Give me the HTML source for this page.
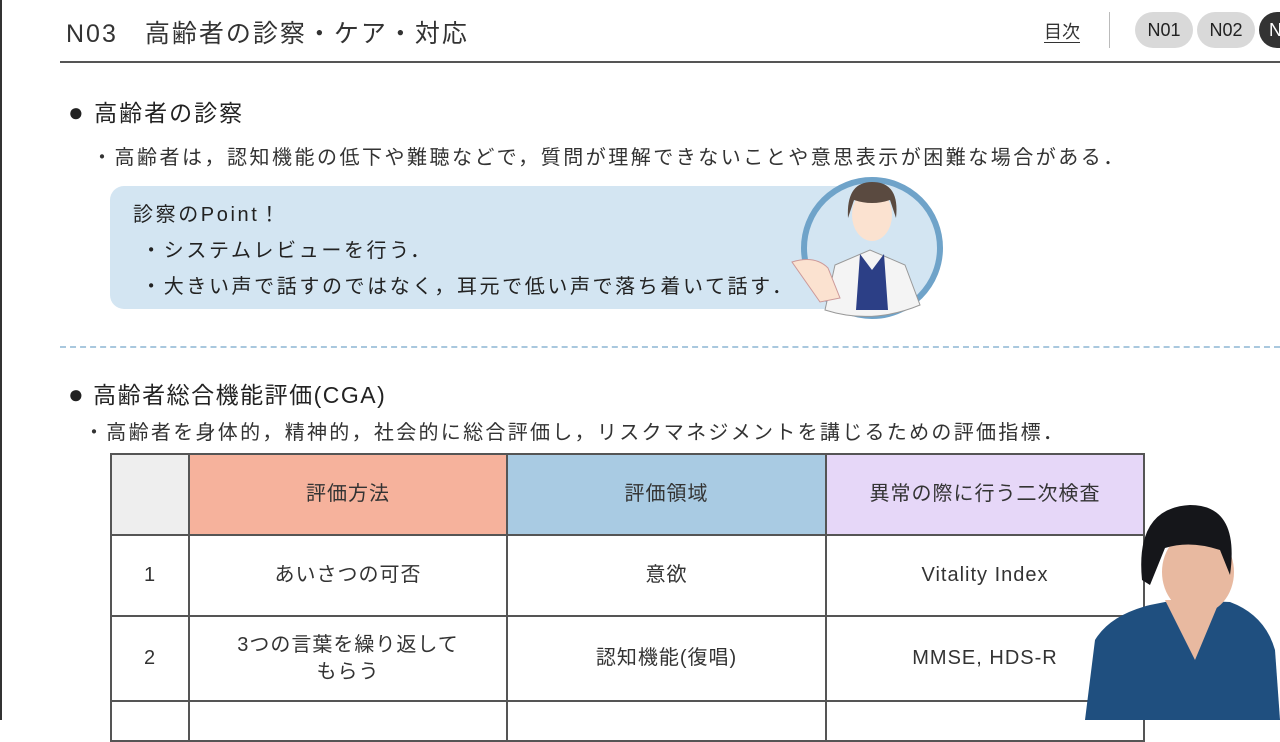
<!DOCTYPE html>
<html><head><meta charset="utf-8"><style>
body{margin:0;width:1280px;height:720px;overflow:hidden;background:#fff;position:relative;font-family:"Liberation Sans","Noto Sans CJK JP",sans-serif;color:#222}
.a{position:absolute;white-space:nowrap}
table{position:absolute;left:110px;top:453px;border-collapse:collapse;font-size:20px;color:#333;letter-spacing:1px}
td{border:2px solid #555;text-align:center;vertical-align:middle;line-height:27px}
</style></head><body>
<div class="a" style="left:0;top:0;width:2px;height:720px;background:#333"></div>
<div class="a" style="left:66px;top:14px;font-size:25px;color:#333;letter-spacing:2px">N03　高齢者の診察・ケア・対応</div>
<div class="a" style="left:1044px;top:18px;font-size:18px;color:#333;text-decoration:underline;text-underline-offset:4px">目次</div>
<div class="a" style="left:1109px;top:12px;width:1px;height:36px;background:#bbb"></div>
<div class="a" style="left:1135px;top:12px;width:58px;height:36px;border-radius:18px;background:#d9d9d9;font-size:18px;line-height:36px;text-align:center">N01</div>
<div class="a" style="left:1197px;top:12px;width:58px;height:36px;border-radius:18px;background:#d9d9d9;font-size:18px;line-height:36px;text-align:center">N02</div>
<div class="a" style="left:1259px;top:12px;width:58px;height:36px;border-radius:18px;background:#333;color:#fff;font-size:18px;line-height:36px;padding-left:10px;box-sizing:border-box">N</div>
<div class="a" style="left:60px;top:61px;width:1220px;height:2px;background:#555"></div>
<div class="a" style="left:68px;top:94px;font-size:23px;color:#222;letter-spacing:2px"><span style="font-size:26px">●</span> 高齢者の診察</div>
<div class="a" style="left:92px;top:141px;font-size:20px;color:#333;letter-spacing:2.5px">・高齢者は，認知機能の低下や難聴などで，質問が理解できないことや意思表示が困難な場合がある．</div>
<div class="a" style="left:110px;top:186px;width:760px;height:123px;border-radius:14px;background:#d3e5f2"></div>
<div class="a" style="left:133px;top:197px;font-size:20px;line-height:36px;color:#222;letter-spacing:2.6px">診察のPoint！<br>&nbsp;・システムレビューを行う．<br>&nbsp;・大きい声で話すのではなく，耳元で低い声で落ち着いて話す．</div>
<svg class="a" style="left:780px;top:170px" width="180" height="160">
<circle cx="92" cy="78" r="68" fill="#d3e5f2" stroke="#6fa3c9" stroke-width="6"/>
<path d="M45 140 L55 95 L90 80 L125 95 L140 135 Q92 155 45 140Z" fill="#f4f4f4" stroke="#999"/>
<path d="M80 84 L92 100 L104 84 L108 140 L76 140Z" fill="#2c3f86"/>
<ellipse cx="92" cy="45" rx="20" ry="26" fill="#fbe2d0"/>
<path d="M68 48 Q66 12 92 12 Q120 12 116 48 L110 30 Q92 36 74 30Z" fill="#5a4a40"/>
<path d="M12 92 Q35 85 48 98 L60 128 L40 132 Z" fill="#fbe2d0" stroke="#c99"/>
</svg>
<div class="a" style="left:60px;top:346px;width:1220px;border-top:2px dashed #a9c8de"></div>
<div class="a" style="left:68px;top:376px;font-size:23px;color:#222;letter-spacing:1.5px"><span style="font-size:26px">●</span> 高齢者総合機能評価(CGA)</div>
<div class="a" style="left:84px;top:416px;font-size:20px;color:#333;letter-spacing:2.3px">・高齢者を身体的，精神的，社会的に総合評価し，リスクマネジメントを講じるための評価指標．</div>
<table>
<tr style="height:81px"><td style="width:74px;background:#eee"></td><td style="width:314px;background:#f6b29c">評価方法</td><td style="width:315px;background:#a9cbe3">評価領域</td><td style="width:314px;background:#e6d7f8">異常の際に行う二次検査</td></tr>
<tr style="height:81px"><td>1</td><td>あいさつの可否</td><td>意欲</td><td>Vitality Index</td></tr>
<tr style="height:85px"><td>2</td><td>3つの言葉を繰り返して<br>もらう</td><td>認知機能(復唱)</td><td>MMSE, HDS-R</td></tr>
<tr style="height:40px"><td></td><td></td><td></td><td></td></tr>
</table>
<svg class="a" style="left:1080px;top:500px" width="200" height="220">
<path d="M5 220 L15 140 Q30 115 70 105 L95 100 L150 102 Q185 115 195 150 L200 220Z" fill="#1f4f7f"/>
<path d="M85 100 L115 160 L140 100Z" fill="#e8b9a0"/>
<ellipse cx="118" cy="72" rx="36" ry="42" fill="#e8b9a0"/>
<path d="M62 80 Q55 8 110 5 Q160 5 150 75 L140 50 Q110 40 85 48 L70 85Z" fill="#15161a"/>
</svg>
</body></html>
